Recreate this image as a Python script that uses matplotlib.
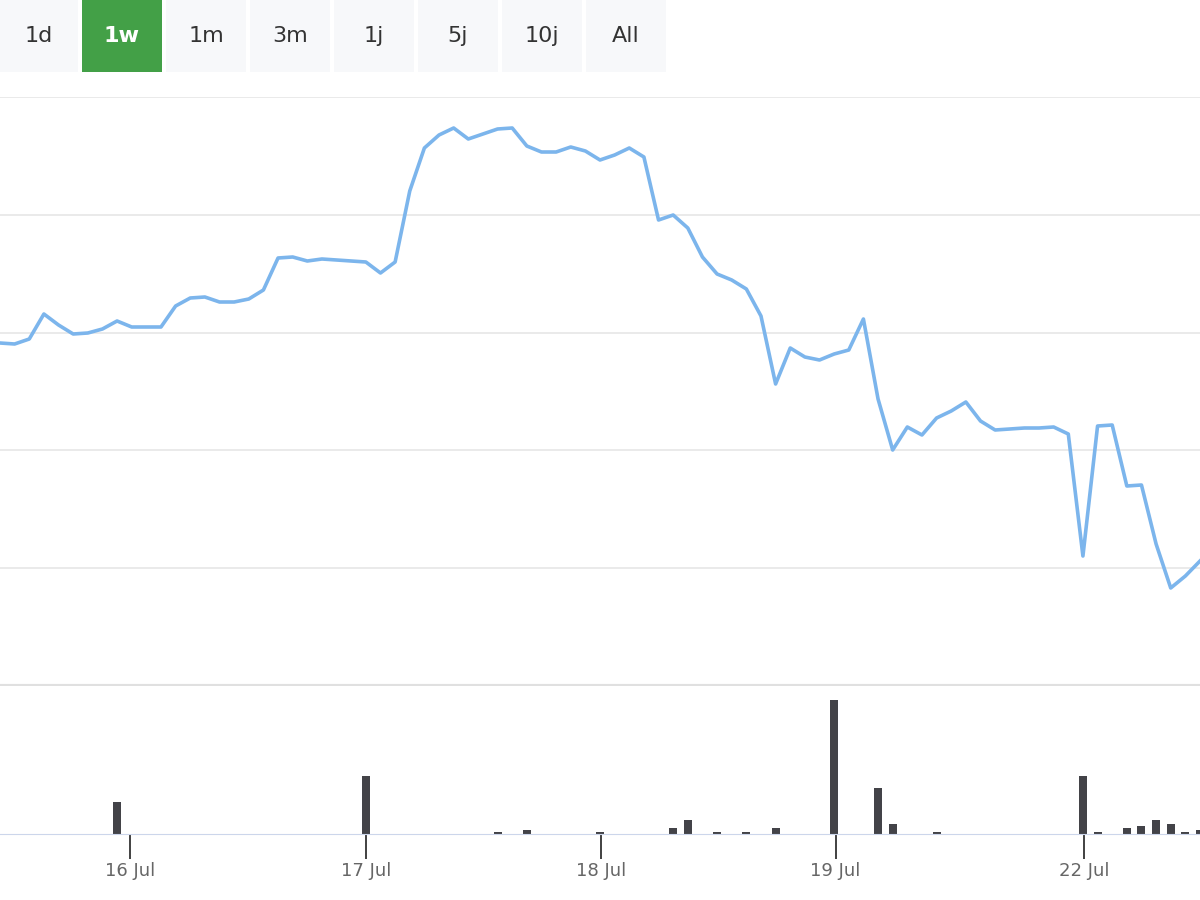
import matplotlib
matplotlib.use("Agg")
import matplotlib.pyplot as plt
from matplotlib.patches import Rectangle
import numpy as np

price_px = [343,344,339,314,325,334,333,329,321,327,327,327,306,298,297,302,302,299,290,258,257,261,259,260,261,262,273,262,191,148,135,128,139,134,129,128,146,152,152,147,151,160,155,148,157,220,215,228,257,274,280,289,316,384,348,357,360,354,350,319,399,450,427,435,418,411,402,421,430,429,428,428,427,434,556,426,425,486,485,544,588,576,561]
price = [(686 - p) / 117.8 for p in price_px]
vol_idx = [8,25,34,36,41,46,47,49,51,53,57,60,61,64,74,75,77,78,79,80,81,82]
vol = [32,58,2,4,2,6,14,2,2,6,134,46,10,2,58,2,6,8,14,10,2,4]
tick_idx = [8.87,25.0,41.1,57.1,74.1]
tick_labels = ["16 Jul","17 Jul","18 Jul","19 Jul","22 Jul"]
buttons = ["1d","1w","1m","3m","1j","5j","10j","All"]

fig = plt.figure(figsize=(12,9), dpi=100)
n = len(price)
xl = (0, n - 1)

ax = fig.add_axes([0, 1-686/900, 1, 589/900])
ax.plot(np.arange(n), price, color="#7cb5ec", lw=2.6)
ax.set_xlim(*xl); ax.set_ylim(0, 5.0)
for g in [1,2,3,4,5]:
    ax.axhline(g, color="#e6e6e6", lw=1.2, zorder=0)
ax.axhline(0, color="#e0e0e0", lw=3)
ax.set_xticks([]); ax.set_yticks([])
for s in ax.spines.values(): s.set_visible(False)

av = fig.add_axes([0, 1-834/900, 1, 148/900])
av.bar(vol_idx, vol, width=0.55, color="#434348")
av.set_xlim(*xl); av.set_ylim(0, 148)
av.set_yticks([])
for s in ["top","left","right"]: av.spines[s].set_visible(False)
av.spines["bottom"].set_color("#ccd6eb")
av.set_xticks(tick_idx)
av.set_xticklabels(tick_labels, fontsize=13, color="#666666")
av.tick_params(axis="x", length=18, width=1.3, color="#333333", pad=2)
av.patch.set_alpha(0)

bx = 0
for i, b in enumerate(buttons):
    x0 = bx + i*84
    w = 78 if i == 0 else 80
    if i > 0: x0 = 82 + (i-1)*84
    active = b == "1w"
    fig.patches.append(Rectangle((x0/1200, 1-72/900), w/1200, 72/900, transform=fig.transFigure,
                                 facecolor="#43a047" if active else "#f7f8fa", edgecolor="none"))
    fig.text((x0+w/2)/1200, 1-36/900, b, ha="center", va="center", fontsize=16,
             color="white" if active else "#333333", fontweight="bold" if active else "normal")

fig.savefig("out.png", dpi=100)
